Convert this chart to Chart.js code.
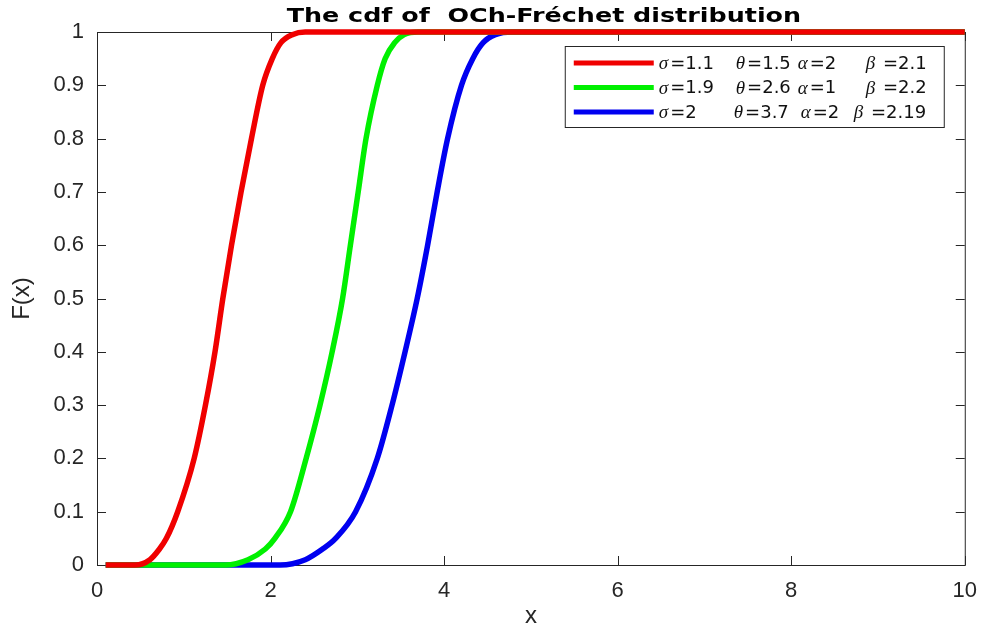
<!DOCTYPE html>
<html>
<head>
<meta charset="utf-8">
<script src="https://cdn.jsdelivr.net/npm/chart.js@4"></script>
<style>
  html, body { margin: 0; padding: 0; background: #fff; }
</style>
</head>
<body>
<canvas id="chart" width="982" height="631"></canvas>
<script>
// curves (x, F(x))
const xRed = [0.1, 0.44, 0.61, 0.72, 0.80, 0.93, 1.12, 1.25, 1.36, 1.45, 1.55, 1.66, 1.78, 1.91, 2.02, 2.12, 2.25, 2.40, 10];
const fRed = [0, 0, 0.01, 0.03, 0.05, 0.1, 0.2, 0.3, 0.4, 0.5, 0.6, 0.7, 0.8, 0.9, 0.95, 0.98, 0.995, 1, 1];

const xGreen = [0.1, 1.48, 1.74, 1.94, 2.05, 2.23, 2.41, 2.57, 2.71, 2.83, 2.92, 3.01, 3.10, 3.23, 3.32, 3.43, 3.54, 3.70, 10];
const fGreen = [0, 0, 0.01, 0.03, 0.05, 0.1, 0.2, 0.3, 0.4, 0.5, 0.6, 0.7, 0.8, 0.9, 0.95, 0.98, 0.995, 1, 1];

const xBlue = [0.1, 2.11, 2.40, 2.60, 2.75, 2.98, 3.23, 3.40, 3.55, 3.69, 3.81, 3.92, 4.04, 4.20, 4.33, 4.45, 4.59, 4.79, 10];
const fBlue = [0, 0, 0.01, 0.03, 0.05, 0.1, 0.2, 0.3, 0.4, 0.5, 0.6, 0.7, 0.8, 0.9, 0.95, 0.98, 0.995, 1, 1];

const seriesLabels = [
  "σ=1.1  θ=1.5  α=2  β =2.1",
  "σ=1.9  θ=2.6  α=1  β =2.2",
  "σ=2   θ=3.7  α=2  β =2.19"
];
const seriesColors = ["#f00000", "#00f000", "#0000f0"];
const titleText = "The cdf of  OCh-Fréchet distribution";

const xTicks = [0, 2, 4, 6, 8, 10];
const yTicks = [0, 0.1, 0.2, 0.3, 0.4, 0.5, 0.6, 0.7, 0.8, 0.9, 1];
const yTickLabels = ["0", "0.1", "0.2", "0.3", "0.4", "0.5", "0.6", "0.7", "0.8", "0.9", "1"];

function pts(xs, ys) {
  return xs.map((x, i) => ({ x: x, y: ys[i] }));
}

const axisColor = "#262626";

// matlab style box with inward ticks
const boxPlugin = {
  id: "box",
  beforeDatasetsDraw(chart) {
    const ctx = chart.ctx;
    const a = chart.chartArea;
    const xs = chart.scales.x, ys = chart.scales.y;
    ctx.save();
    ctx.strokeStyle = axisColor;
    ctx.lineWidth = 1;
    ctx.strokeRect(a.left + 0.5, a.top + 0.5, a.right - a.left, a.bottom - a.top);
    ctx.beginPath();
    xTicks.forEach(v => {
      const px = Math.round(xs.getPixelForValue(v)) + 0.5;
      ctx.moveTo(px, a.bottom); ctx.lineTo(px, a.bottom - 9);
      ctx.moveTo(px, a.top); ctx.lineTo(px, a.top + 9);
    });
    yTicks.forEach(v => {
      const py = Math.round(ys.getPixelForValue(v)) + 0.5;
      ctx.moveTo(a.left, py); ctx.lineTo(a.left + 9, py);
      ctx.moveTo(a.right, py); ctx.lineTo(a.right - 9, py);
    });
    ctx.stroke();
    ctx.restore();
  }
};

// bold title, a bit stretched sideways like the original
const titlePlugin = {
  id: "wideTitle",
  afterDraw(chart) {
    const ctx = chart.ctx;
    const a = chart.chartArea;
    ctx.save();
    ctx.font = 'bold 20px "DejaVu Sans"';
    ctx.fillStyle = "#000";
    ctx.textAlign = "center";
    ctx.textBaseline = "alphabetic";
    ctx.translate((a.left + a.right) / 2 + 13, 22);
    ctx.scale(1.27, 1);
    ctx.fillText(titleText, 0, 0);
    ctx.restore();
  }
};

// legend box inside the axes, greek letters in italic serif
const legendPlugin = {
  id: "innerLegend",
  afterDraw(chart) {
    const ctx = chart.ctx;
    const a = chart.chartArea;
    const bx = a.right - 400, by = a.top + 14, bw = 379, bh = 81;
    const cols = [[94, 171, 233, 301], [94, 171, 233, 301], [94, 169, 236, 289]];
    ctx.save();
    ctx.fillStyle = "#fff";
    ctx.fillRect(bx, by, bw, bh);
    ctx.strokeStyle = axisColor;
    ctx.lineWidth = 1;
    ctx.strokeRect(bx + 0.5, by + 0.5, bw, bh);
    chart.data.datasets.forEach((ds, i) => {
      const y = by + 17 + i * 24.5;
      ctx.strokeStyle = ds.borderColor;
      ctx.lineWidth = 5;
      ctx.beginPath();
      ctx.moveTo(bx + 9, y); ctx.lineTo(bx + 89, y);
      ctx.stroke();
      ctx.textBaseline = "middle";
      ctx.fillStyle = "#111";
      ds.label.split(/\s+(?=[σθαβ])/).forEach((part, j) => {
        let x = bx + cols[i][j];
        ctx.font = 'italic 19px "Liberation Serif"';
        ctx.fillText(part[0], x, y + 1);
        x += ctx.measureText(part[0]).width + 2;
        ctx.font = '18px "DejaVu Sans"';
        ctx.fillText(part.slice(1), x, y + 1);
      });
    });
    ctx.restore();
  }
};

const ctx = document.getElementById("chart").getContext("2d");
new Chart(ctx, {
  type: "line",
  data: {
    datasets: [
      { label: seriesLabels[0], data: pts(xRed, fRed), borderColor: seriesColors[0] },
      { label: seriesLabels[1], data: pts(xGreen, fGreen), borderColor: seriesColors[1] },
      { label: seriesLabels[2], data: pts(xBlue, fBlue), borderColor: seriesColors[2] }
    ].map(d => Object.assign(d, {
      borderWidth: 5.5,
      pointRadius: 0,
      fill: false,
      cubicInterpolationMode: "monotone",
      clip: 6
    }))
  },
  options: {
    responsive: false,
    animation: false,
    layout: { padding: { left: 0, right: 12, top: 32, bottom: 0 } },
    plugins: {
      legend: { display: false },
      tooltip: { enabled: false },
      title: { display: false }
    },
    scales: {
      x: {
        type: "linear",
        min: 0,
        max: 10,
        afterBuildTicks: s => { s.ticks = xTicks.map(v => ({ value: v })); },
        afterFit: s => { s.height = 66; },
        grid: { display: false },
        border: { display: false },
        ticks: {
          color: axisColor,
          font: { family: "Liberation Sans", size: 22 },
          padding: 5,
          maxRotation: 0
        },
        title: {
          display: true,
          text: "x",
          color: axisColor,
          font: { family: "Liberation Sans", size: 24 },
          padding: { top: 0, bottom: 0 }
        }
      },
      y: {
        min: 0,
        max: 1,
        afterBuildTicks: s => { s.ticks = yTicks.map(v => ({ value: v })); },
        afterFit: s => { s.width = 97; },
        grid: { display: false },
        border: { display: false },
        ticks: {
          color: axisColor,
          font: { family: "Liberation Sans", size: 22 },
          padding: 5,
          callback: (v, i) => yTickLabels[i]
        },
        title: {
          display: true,
          text: "F(x)",
          color: axisColor,
          font: { family: "Liberation Sans", size: 24 },
          padding: { top: 8, bottom: 0 }
        }
      }
    }
  },
  plugins: [boxPlugin, legendPlugin, titlePlugin]
});
</script>
</body>
</html>
